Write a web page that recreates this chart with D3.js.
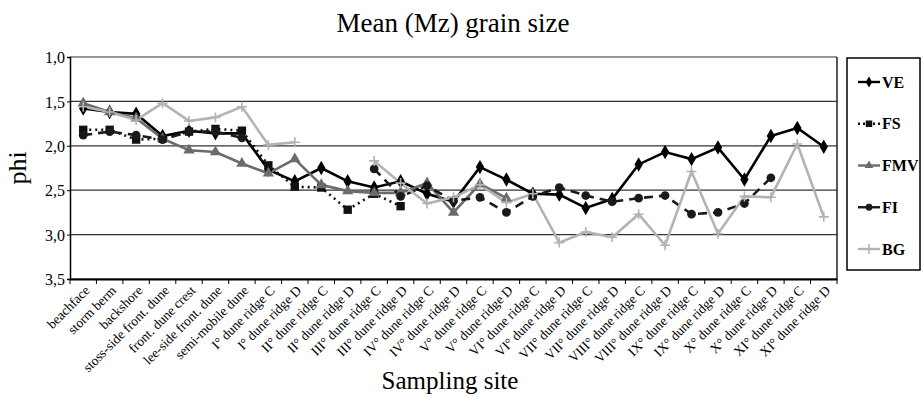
<!DOCTYPE html>
<html>
<head>
<meta charset="utf-8">
<script src="https://cdn.jsdelivr.net/npm/d3@7"></script>
<style>
body { margin: 0; background: #fff; }
text { font-family: "Liberation Serif", "Times New Roman", serif; }
</style>
</head>
<body>
<svg id="chart" width="923" height="397"></svg>
<script>
var sites = ["beachface", "storm berm", "backshore", "stoss-side front. dune", "front. dune crest",
  "lee-side front. dune", "semi-mobile dune",
  "I° dune ridge C", "I° dune ridge D", "II° dune ridge C", "II° dune ridge D",
  "III° dune ridge C", "III° dune ridge D", "IV° dune ridge C", "IV° dune ridge D",
  "V° dune ridge C", "V° dune ridge D", "VI° dune ridge C", "VI° dune ridge D",
  "VII° dune ridge C", "VII° dune ridge D", "VIII° dune ridge C", "VIII° dune ridge D",
  "IX° dune ridge C", "IX° dune ridge D", "X° dune ridge C", "X° dune ridge D",
  "XI° dune ridge C", "XI° dune ridge D"];

var ve = [1.58, 1.62, 1.64, 1.89, 1.83, 1.86, 1.86, 2.27, 2.40, 2.25, 2.40, 2.47, 2.40, 2.54, 2.63,
  2.24, 2.38, 2.54, 2.55, 2.70, 2.60, 2.21, 2.07, 2.15, 2.02, 2.38, 1.89, 1.80, 2.01];
var fs = [1.82, 1.82, 1.93, 1.92, 1.84, 1.81, 1.83, 2.22, 2.46, 2.47, 2.72, 2.54, 2.68,
  null, null, null, null, null, null, null, null, null, null, null, null, null, null, null, null];
var fmv = [1.52, 1.62, 1.69, 1.92, 2.05, 2.07, 2.20, 2.31, 2.15, 2.44, 2.51, 2.53, 2.53, 2.42, 2.75,
  2.43, 2.59, null, null, null, null, null, null, null, null, null, null, null, null];
var fi = [1.88, 1.84, 1.88, 1.93, 1.84, 1.84, 1.91, null, null, null, null, 2.26, 2.57, 2.45, 2.62,
  2.58, 2.75, 2.57, 2.47, 2.56, 2.63, 2.59, 2.56, 2.77, 2.75, 2.65, 2.36, null, null];
var bg = [1.56, 1.62, 1.71, 1.52, 1.72, 1.68, 1.56, 1.99, 1.96, null, null, 2.17, 2.42, 2.65, 2.58,
  2.44, 2.64, 2.54, 3.09, 2.97, 3.03, 2.77, 3.12, 2.29, 2.99, 2.57, 2.58, 1.98, 2.80];

var yTicks = [1.0, 1.5, 2.0, 2.5, 3.0, 3.5];

var series = [
  {name: "VE", values: ve, color: "#000", dash: null, symbol: d3.symbolDiamond, size: 60},
  {name: "FS", values: fs, color: "#111", dash: "2,4", symbol: d3.symbolSquare, size: 70},
  {name: "FMV", values: fmv, color: "#6b6b6b", dash: null, symbol: d3.symbolTriangle, size: 55},
  {name: "FI", values: fi, color: "#1a1a1a", dash: "9,6", symbol: d3.symbolCircle, size: 60},
  {name: "BG", values: bg, color: "#b3b3b3", dash: null, symbol: d3.symbolCross, size: 0}
];

var margin = {top: 57, right: 86, bottom: 118, left: 70},
    width = 923 - margin.left - margin.right,
    height = 397 - margin.top - margin.bottom;

var x = d3.scaleBand()
    .domain(sites)
    .range([0, width]);

var y = d3.scaleLinear()
    .domain([1, 3.5])
    .range([0, height]);

var svg = d3.select("#chart");

svg.append("text")
    .attr("x", 453).attr("y", 32)
    .attr("text-anchor", "middle")
    .style("font-size", "27px")
    .text("Mean (Mz) grain size");

var g = svg.append("g")
    .attr("transform", "translate(" + margin.left + "," + margin.top + ")");

// gridlines
g.append("g")
    .selectAll("line")
    .data(yTicks)
    .enter().append("line")
    .attr("x1", 0).attr("x2", width)
    .attr("y1", d => y(d)).attr("y2", d => y(d))
    .attr("stroke", "#333").attr("stroke-width", 1.2);

g.append("line")
    .attr("x1", width).attr("x2", width).attr("y1", 0).attr("y2", height)
    .attr("stroke", "#222").attr("stroke-width", 1.5);

// y axis
var yAxis = g.append("g")
    .call(d3.axisLeft(y).tickValues(yTicks).tickSize(3)
      .tickFormat(d => d3.format(".1f")(d).replace(".", ",")));
yAxis.select(".domain").attr("stroke", "#000").attr("stroke-width", 1.5);
yAxis.selectAll("text")
    .style("font-family", "Liberation Serif, serif")
    .style("font-size", "16px")
    .attr("x", -5).attr("dy", "0.35em").attr("fill", "#000");

// x axis
var xAxis = g.append("g")
    .attr("transform", "translate(0," + height + ")")
    .call(d3.axisBottom(x).tickSize(0).tickFormat(""));
xAxis.select(".domain").attr("stroke", "#000").attr("stroke-width", 2);

g.append("g")
    .selectAll("line")
    .data(d3.range(sites.length + 1))
    .enter().append("line")
    .attr("x1", i => i * x.step()).attr("x2", i => i * x.step())
    .attr("y1", height).attr("y2", height + 5)
    .attr("stroke", "#000");

g.append("g")
    .selectAll("text")
    .data(sites)
    .enter().append("text")
    .attr("transform", d => "translate(" + (x(d) + x.bandwidth() / 2 + 4) + "," + (height + 9) + ") rotate(-45)")
    .attr("text-anchor", "end")
    .attr("dy", "0.35em")
    .style("font-size", "13.5px")
    .text(d => d);

svg.append("text")
    .attr("transform", "translate(26," + (margin.top + height / 2) + ") rotate(-90)")
    .attr("text-anchor", "middle")
    .style("font-size", "26px")
    .text("phi");

svg.append("text")
    .attr("x", 450).attr("y", 389)
    .attr("text-anchor", "middle")
    .style("font-size", "25px")
    .text("Sampling site");

// lines and markers
var line = d3.line()
    .defined(d => d != null)
    .x((d, i) => x(sites[i]) + x.bandwidth() / 2)
    .y(d => y(d));

series.forEach(function (s) {
  g.append("path")
      .datum(s.values)
      .attr("fill", "none")
      .attr("stroke", s.color)
      .attr("stroke-width", 2.6)
      .attr("stroke-dasharray", s.dash)
      .attr("d", line);
});

function marker(sel, s, cx, cy) {
  if (s.name === "BG") {
    sel.append("path")
        .attr("d", "M" + (cx - 5) + "," + cy + "H" + (cx + 5) + "M" + cx + "," + (cy - 5) + "V" + (cy + 5))
        .attr("stroke", s.color).attr("stroke-width", 1.6);
  } else {
    sel.append("path")
        .attr("transform", "translate(" + cx + "," + cy + ")")
        .attr("d", d3.symbol().type(s.symbol).size(s.size)())
        .attr("fill", s.color);
  }
}

series.forEach(function (s) {
  var mg = g.append("g");
  s.values.forEach(function (v, i) {
    if (v == null) return;
    marker(mg, s, x(sites[i]) + x.bandwidth() / 2, y(v));
  });
});

// legend
var lg = svg.append("g");
lg.append("rect")
    .attr("x", 847).attr("y", 58).attr("width", 73).attr("height", 212)
    .attr("fill", "#fff").attr("stroke", "#000").attr("stroke-width", 1.5);

var legendY = d3.scalePoint()
    .domain(series.map(s => s.name))
    .range([82, 249]);

series.forEach(function (s) {
  var ly = legendY(s.name);
  lg.append("line")
      .attr("x1", 858).attr("x2", 880).attr("y1", ly).attr("y2", ly)
      .attr("stroke", s.color).attr("stroke-width", 2.4)
      .attr("stroke-dasharray", s.name === "FS" ? "2,3" : null);
  var s2 = Object.assign({}, s, {size: s.size * 0.6});
  marker(lg, s2, 869, ly);
  lg.append("text")
      .attr("x", 882).attr("y", ly).attr("dy", "0.35em")
      .style("font-size", "16px").style("font-weight", "bold")
      .text(s.name);
});
</script>
</body>
</html>
